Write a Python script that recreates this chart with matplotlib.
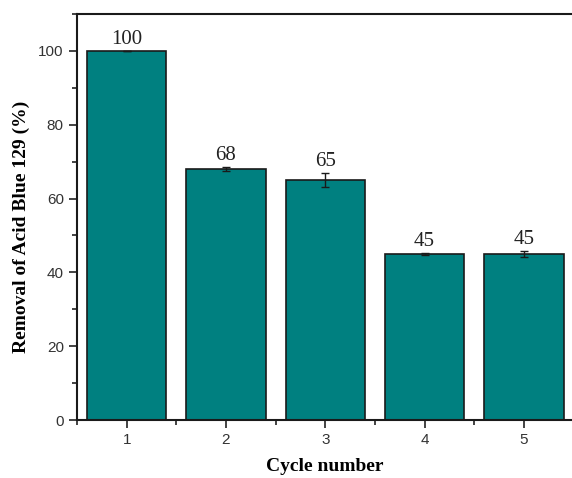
import numpy as np
import matplotlib.pyplot as plt
from matplotlib.ticker import MultipleLocator

# data
cycles = [1, 2, 3, 4, 5]
removal = [100, 68, 65, 45, 45]
errors = [0, 0.5, 2, 0.3, 0.7]
labels = ['100', '68', '65', '45', '45']

fig = plt.figure(figsize=(5.72, 4.78), dpi=100)
ax = fig.add_axes([0.1346, 0.1213, 0.868, 0.8494])

ax.bar(cycles, removal, width=0.8, color='#008080', edgecolor='#1a1a1a', linewidth=1.2,
       yerr=errors, error_kw=dict(ecolor='#1a1a1a', elinewidth=1.0, capsize=3, capthick=1.0))

for x, y, e, t in zip(cycles, removal, errors, labels):
    ax.text(x, y + e + 0.5, t, ha='center', va='bottom',
            fontfamily='Liberation Serif', fontsize=15, color='#222222')

ax.set_xlim(0.5, 5.5)
ax.set_ylim(0, 110)
ax.set_xticks(cycles)
ax.xaxis.set_minor_locator(MultipleLocator(0.5))
ax.yaxis.set_major_locator(MultipleLocator(20))
ax.yaxis.set_minor_locator(MultipleLocator(10))
ax.tick_params(which='both', direction='out', width=1.2, colors='#222222')
ax.tick_params(which='major', length=6)
ax.tick_params(which='minor', length=3.5)
for lab in ax.get_xticklabels() + ax.get_yticklabels():
    lab.set_fontfamily('Liberation Sans')
    lab.set_fontsize(11)
    lab.set_color('#333333')
for s in ax.spines.values():
    s.set_linewidth(1.5)
    s.set_color('#1a1a1a')

ax.set_xlabel('Cycle number', fontfamily='Liberation Serif', fontweight='bold',
              fontsize=14, labelpad=8)
ax.set_ylabel('Removal of Acid Blue 129 (%)', fontfamily='Liberation Serif',
              fontweight='bold', fontsize=14)
ax.yaxis.set_label_coords(-0.095, 0.475)

fig.savefig('out.png', dpi=100, facecolor='white')
